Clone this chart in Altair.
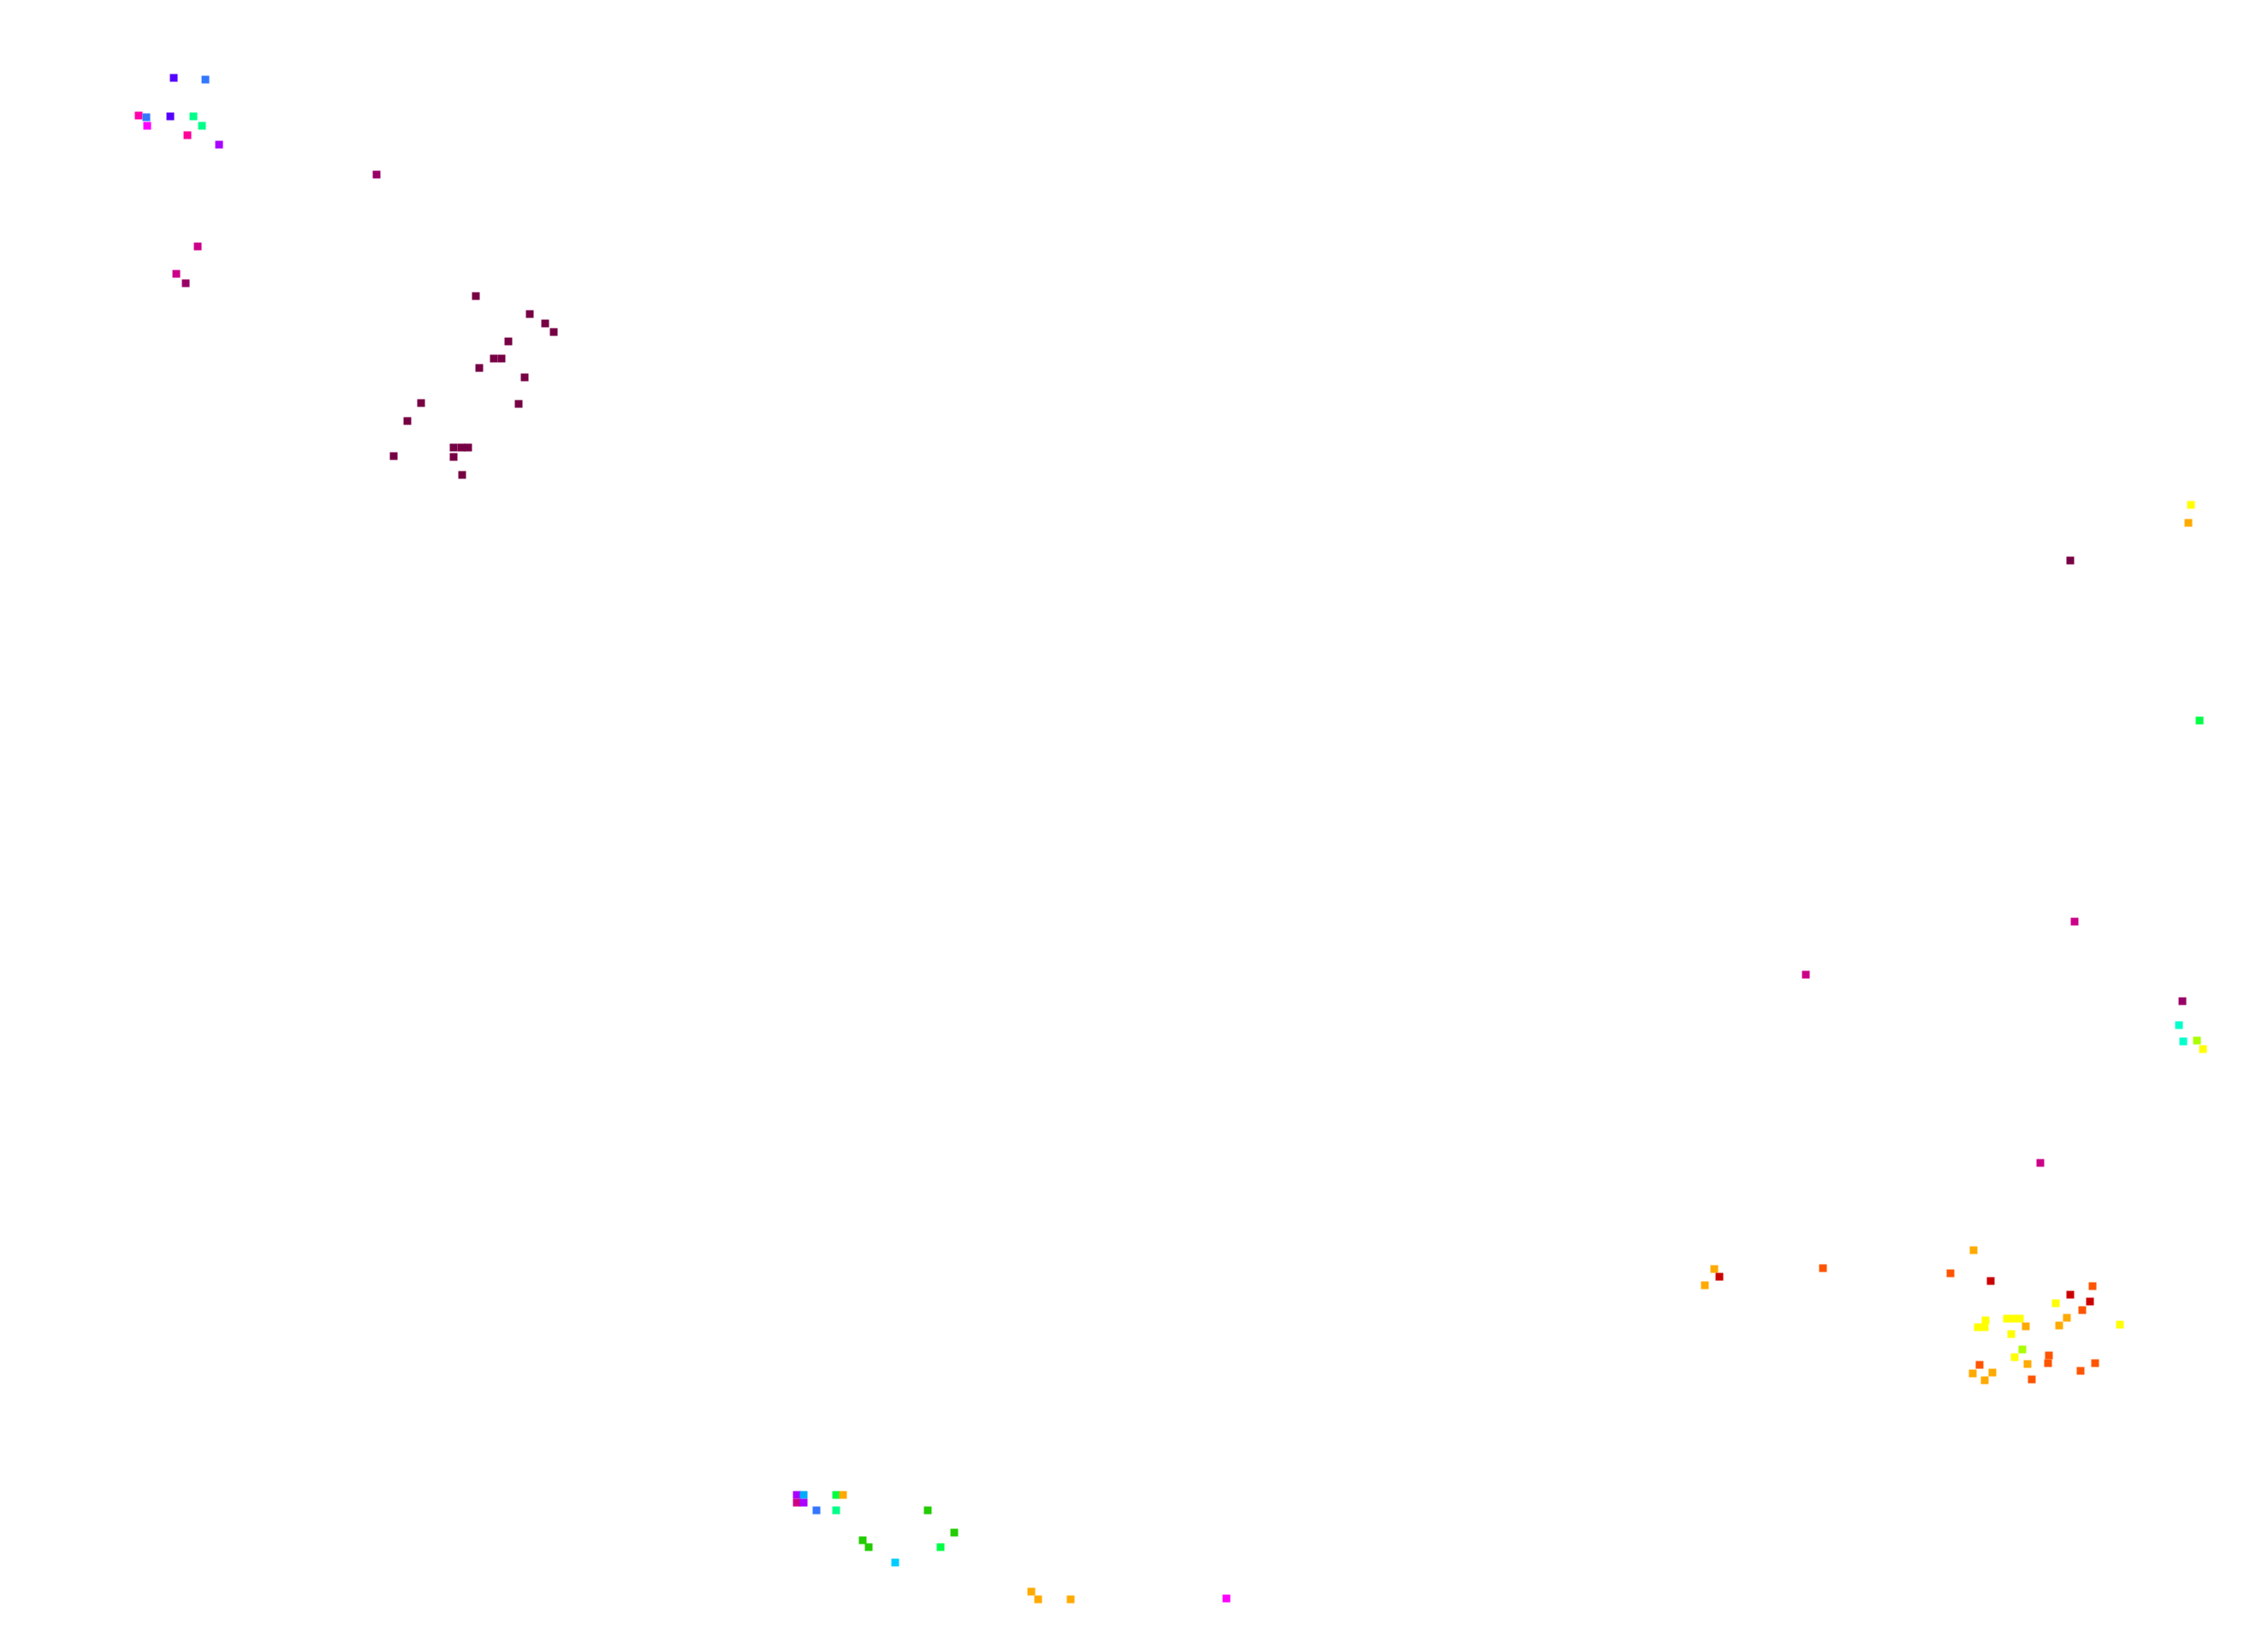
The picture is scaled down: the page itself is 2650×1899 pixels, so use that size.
import altair as alt
import pandas as pd

# positions (x to the right, y downward), one colour per point
xs = [
    203, 240, 162, 171, 172, 199, 226, 236, 219, 256, 0, 2, 231, 206, 217, 3,
    440, 556, 619, 637, 647, 594, 577, 586, 560, 613, 492, 606, 476, 460, 530, 539, 547, 530, 540,
    2003, 2009, 1992, 2130, 2306, 2279, 2326, 2445, 2419, 2442, 2402, 2433, 2320, 2311, 2319,
    2345, 2352, 2360, 2367, 2415, 2406, 2477, 2350, 2363, 2354, 2394, 2393, 2369, 2313, 2305,
    2328, 2319, 2374, 2431, 2448,
    931, 939, 931, 939, 977, 985, 954, 977, 1084, 1115, 1008, 1015, 1099, 1046, 1205, 1213, 1251, 1433,
    2560, 2557, 2419, 2570, 2424, 2110, 2550, 2546, 2551, 2567, 2574, 2384,
]
ys = [
    91, 93, 135, 137, 147, 136, 136, 147, 158, 169, 286, 307, 288, 320, 331, 793,
    204, 346, 367, 378, 388, 399, 419, 419, 430, 441, 471, 472, 492, 533, 523, 523, 523, 534, 555,
    1483, 1492, 1502, 1482, 1461, 1488, 1497, 1503, 1513, 1521, 1523, 1531, 1543, 1551, 1551,
    1541, 1541, 1541, 1550, 1540, 1549, 1548, 1559, 1577, 1586, 1584, 1593, 1594, 1595, 1605,
    1604, 1613, 1612, 1602, 1593,
    1747, 1747, 1756, 1756, 1747, 1747, 1765, 1765, 1765, 1791, 1800, 1808, 1808, 1826, 1860, 1869, 1869, 1868,
    590, 611, 655, 842, 1077, 1139, 1170, 1198, 1217, 1216, 1226, 1359,
]
colors = [
    "#5500ff", "#3377ff", "#ff00aa", "#3377ff", "#ff00ff", "#5500ff", "#00ff88", "#00ff88",
    "#ff0099", "#aa00ff", "#00aaff", "#aa00ff", "#cc0088", "#cc0088", "#990066", "#ff00aa",
    "#990066", "#770044", "#770044", "#770044", "#770044", "#770044", "#770044", "#770044",
    "#770044", "#770044", "#770044", "#770044", "#770044", "#770044", "#770044", "#770044",
    "#770044", "#770044", "#770044",
    "#ffaa00", "#cc0000", "#ffaa00", "#ff5500", "#ffaa00", "#ff5500", "#cc0000", "#ff5500",
    "#cc0000", "#cc0000", "#ffff00", "#ff5500", "#ffff00", "#ffff00", "#ffff00",
    "#ffff00", "#ffff00", "#ffff00", "#ffaa00", "#ffaa00", "#ffaa00", "#ffff00", "#ffff00",
    "#aaff00", "#ffff00", "#ff5500", "#ff5500", "#ffaa00", "#ff5500", "#ffaa00",
    "#ffaa00", "#ffaa00", "#ff5500", "#ff5500", "#ff5500",
    "#aa00ff", "#00aaff", "#cc0088", "#aa00ff", "#00ff44", "#ffaa00", "#3377ff", "#00ff88",
    "#22cc00", "#22cc00", "#22cc00", "#22cc00", "#00ff44", "#00ccff", "#ffaa00", "#ffaa00",
    "#ffaa00", "#ff00ff",
    "#ffff00", "#ffaa00", "#770044", "#00ff44", "#cc0088", "#cc0088", "#990066", "#00ffcc",
    "#00ffcc", "#aaff00", "#ffff00", "#cc0088",
]

df = pd.DataFrame({"x": xs, "y": ys, "c": colors})

chart = (
    alt.Chart(df)
    .mark_square(size=81, opacity=1, filled=True)
    .encode(
        x=alt.X("x:Q", axis=None, scale=alt.Scale(domain=[8, 2642], nice=False, zero=False)),
        y=alt.Y("y:Q", axis=None, scale=alt.Scale(domain=[8, 1891], nice=False, zero=False, reverse=True)),
        color=alt.Color("c:N", scale=None),
    )
    .properties(width=2634, height=1883, padding=0, autosize=alt.AutoSizeParams(type="none"))
    .configure_view(strokeWidth=0)
)

chart.save("out.html", embed_options={"renderer": "svg", "actions": False})
